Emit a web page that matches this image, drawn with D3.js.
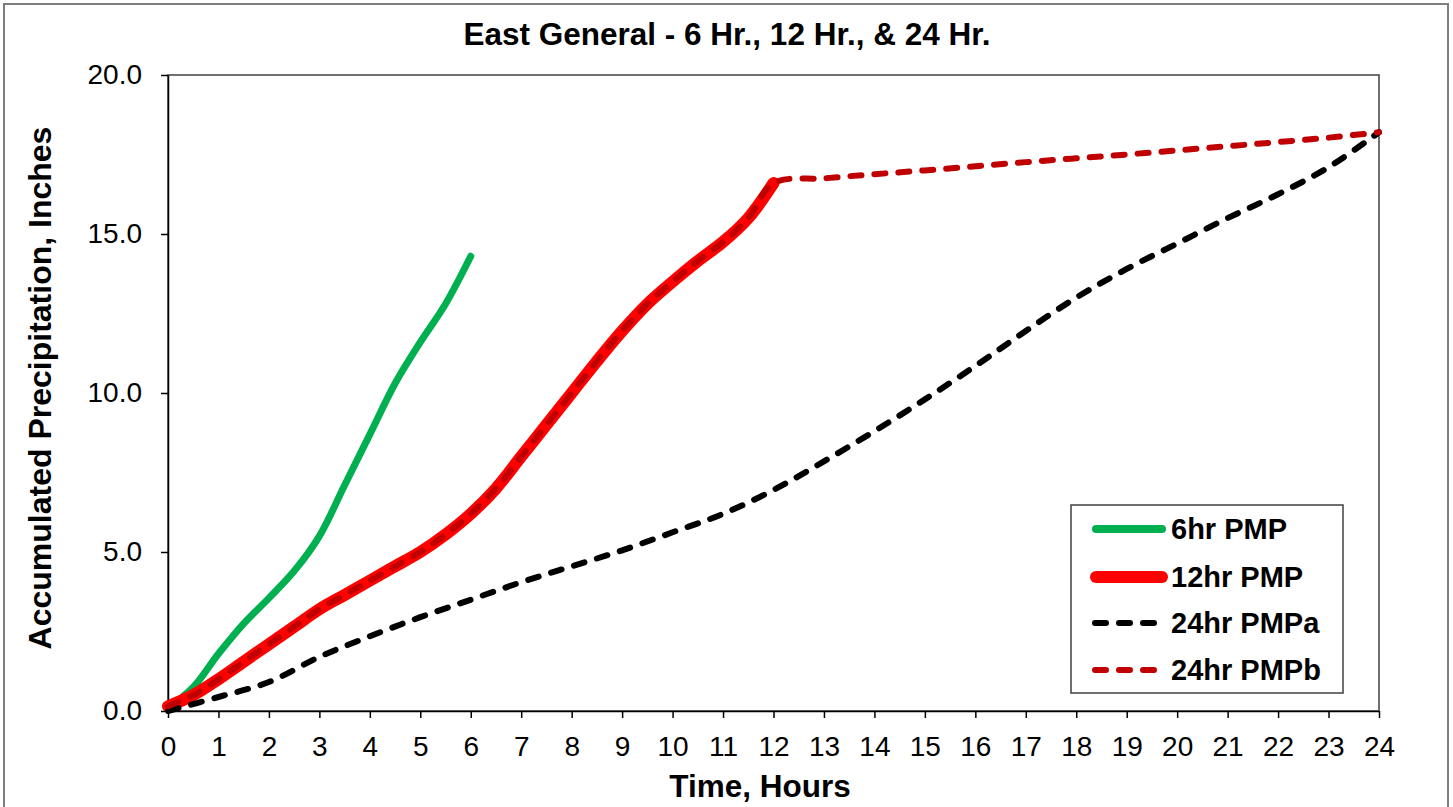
<!DOCTYPE html>
<html>
<head>
<meta charset="utf-8">
<script src="https://cdn.jsdelivr.net/npm/d3@7"></script>
<style>
  body { margin: 0; background: #fff; }
  svg { display: block; font-family: "Liberation Sans", Arial, sans-serif; }
</style>
</head>
<body>
<div id="chart"></div>
<script>
// 6hr PMP (half-hour steps)
const hours6 = [0, 0.5, 1, 1.5, 2, 2.5, 3, 3.5, 4, 4.5, 5, 5.5, 6];
const pmp6 = [0.1, 0.75, 1.8, 2.75, 3.55, 4.4, 5.5, 7.1, 8.7, 10.3, 11.6, 12.8, 14.3];

// 12hr PMP (half-hour steps)
const hours12 = [0, 0.5, 1, 1.5, 2, 2.5, 3, 3.5, 4, 4.5, 5, 5.5, 6,
                 6.5, 7, 7.5, 8, 8.5, 9, 9.5, 10, 10.5, 11, 11.5, 12];
const pmp12 = [0.15, 0.5, 1.0, 1.55, 2.1, 2.65, 3.2, 3.65, 4.1, 4.55, 5.0, 5.55, 6.2,
               7.0, 8.0, 9.0, 10.0, 11.0, 11.95, 12.8, 13.5, 14.15, 14.75, 15.5, 16.6];

// 24hr PMPa (hourly)
const hours24 = [0, 1, 2, 3, 4, 5, 6, 7, 8, 9, 10, 11, 12,
                 13, 14, 15, 16, 17, 18, 19, 20, 21, 22, 23, 24];
const pmp24a = [0, 0.44, 0.91, 1.7, 2.35, 2.95, 3.5, 4.05, 4.55, 5.05, 5.62, 6.2, 6.95,
                7.85, 8.8, 9.8, 10.85, 11.95, 13.0, 13.9, 14.7, 15.5, 16.25, 17.1, 18.2];

// 24hr PMPb: follows the 12hr PMP to hour 12, then this tail
const hours24bTail = [13, 14, 15, 16, 17, 18, 19, 20, 21, 22, 23, 24];
const pmp24bTail = [16.75, 16.88, 17.0, 17.13, 17.26, 17.38, 17.5, 17.63, 17.76, 17.89, 18.03, 18.2];

const xTicks = d3.range(0, 25, 1);
const yTicks = [0, 5, 10, 15, 20];

const W = 1453, H = 807;
const plot = {left: 168, top: 75, right: 1379, bottom: 711};

const svg = d3.select("#chart").append("svg")
  .attr("width", W)
  .attr("height", H);

// outer chart border
svg.append("rect")
  .attr("x", 4).attr("y", 4)
  .attr("width", 1444).attr("height", 820)
  .attr("fill", "#fff")
  .attr("stroke", "#7f7f7f")
  .attr("stroke-width", 2);

const x = d3.scaleLinear().domain([0, 24]).range([plot.left, plot.right]);
const y = d3.scaleLinear().domain([0, 20]).range([plot.bottom, plot.top]);

// plot area box
svg.append("rect")
  .attr("x", plot.left).attr("y", plot.top)
  .attr("width", plot.right - plot.left)
  .attr("height", plot.bottom - plot.top)
  .attr("fill", "none")
  .attr("stroke", "#404040")
  .attr("stroke-width", 1.5);

// axes
const yAxis = svg.append("g")
  .attr("transform", `translate(${plot.left},0)`)
  .call(d3.axisLeft(y).tickValues(yTicks).tickFormat(d3.format(".1f"))
    .tickSize(7).tickSizeOuter(0).tickPadding(19));

const xAxis = svg.append("g")
  .attr("transform", `translate(0,${plot.bottom})`)
  .call(d3.axisBottom(x).tickValues(xTicks).tickFormat(d3.format("d"))
    .tickSize(7).tickSizeOuter(0).tickPadding(18));

[xAxis, yAxis].forEach(a => {
  a.selectAll("path, line").attr("stroke", "#000").attr("stroke-width", 1.5);
  a.selectAll("text")
    .attr("font-family", "Liberation Sans, Arial, sans-serif")
    .attr("font-size", 28)
    .attr("fill", "#000");
});

// series (smoothed like the spreadsheet lines)
const line = d3.line()
  .x(d => x(d[0]))
  .y(d => y(d[1]))
  .curve(d3.curveCatmullRom.alpha(0.5));

const s6 = hours6.map((h, i) => [h, pmp6[i]]);
const s12 = hours12.map((h, i) => [h, pmp12[i]]);
const s24a = hours24.map((h, i) => [h, pmp24a[i]]);
const s24b = s12.concat(hours24bTail.map((h, i) => [h, pmp24bTail[i]]));

const series = [
  {name: "6hr PMP", data: s6, color: "#00b050", width: 7, dash: null},
  {name: "12hr PMP", data: s12, color: "#ff0000", width: 12, dash: null},
  {name: "24hr PMPa", data: s24a, color: "#000000", width: 6, dash: "11,13"},
  {name: "24hr PMPb", data: s24b, color: "#c00000", width: 6, dash: "11,13"}
];

svg.selectAll("path.series")
  .data(series)
  .join("path")
    .attr("class", "series")
    .attr("d", d => line(d.data))
    .attr("fill", "none")
    .attr("stroke", d => d.color)
    .attr("stroke-width", d => d.width)
    .attr("stroke-linecap", "round")
    .attr("stroke-linejoin", "round")
    .attr("stroke-dasharray", d => d.dash);

// legend
const legend = svg.append("g");
legend.append("rect")
  .attr("x", 1071).attr("y", 505)
  .attr("width", 272).attr("height", 188)
  .attr("fill", "#fff")
  .attr("stroke", "#404040")
  .attr("stroke-width", 1.5);

const rowY = [529, 577, 623, 670];
const item = legend.selectAll("g.item")
  .data(series)
  .join("g")
    .attr("class", "item")
    .attr("transform", (d, i) => `translate(0,${rowY[i]})`);

item.append("line")
  .attr("x1", d => d.dash ? 1095 : 1096)
  .attr("x2", d => d.dash ? 1160 : 1162)
  .attr("stroke", d => d.color)
  .attr("stroke-width", d => d.width === 7 ? 8 : d.width)
  .attr("stroke-linecap", "round")
  .attr("stroke-dasharray", d => d.dash);

item.append("text")
  .attr("x", 1171)
  .attr("dy", "0.36em")
  .attr("font-size", 29)
  .attr("font-weight", "bold")
  .text(d => d.name);

// titles
svg.append("text")
  .attr("x", 727).attr("y", 45)
  .attr("text-anchor", "middle")
  .attr("font-size", 31.5)
  .attr("font-weight", "bold")
  .text("East General - 6 Hr., 12 Hr., & 24 Hr.");

svg.append("text")
  .attr("x", 760).attr("y", 797)
  .attr("text-anchor", "middle")
  .attr("font-size", 31.5)
  .attr("font-weight", "bold")
  .text("Time, Hours");

svg.append("text")
  .attr("transform", "translate(51,388) rotate(-90)")
  .attr("text-anchor", "middle")
  .attr("font-size", 32)
  .attr("font-weight", "bold")
  .text("Accumulated Precipitation, Inches");
</script>
</body>
</html>
